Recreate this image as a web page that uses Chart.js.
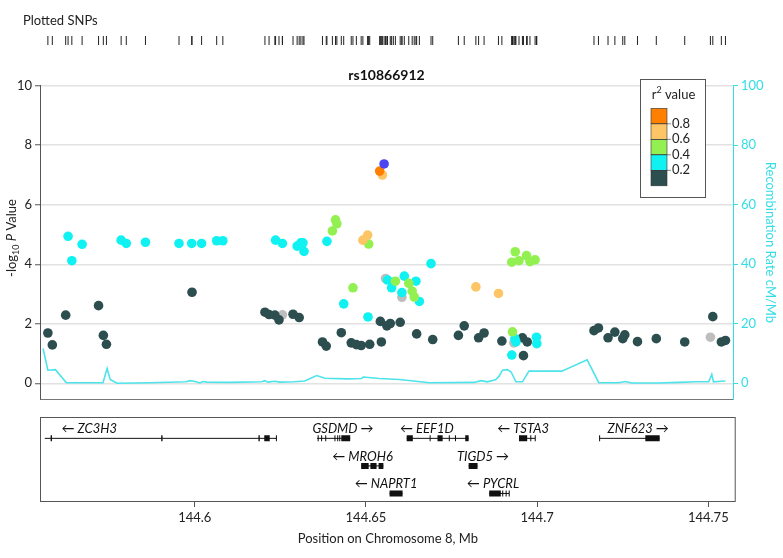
<!DOCTYPE html>
<html>
<head>
<meta charset="utf-8">
<script src="https://cdn.jsdelivr.net/npm/chart.js@4.4.0/dist/chart.umd.min.js"></script>
<style>
  html, body { margin: 0; padding: 0; background: #fff; }
  #wrap { position: relative; width: 783px; height: 558px; }
  canvas { position: absolute; left: 0; }
</style>
</head>
<body>
<div id="wrap">
  <canvas id="snpChart" width="783" height="52" style="top:0px"></canvas>
  <canvas id="mainChart" width="783" height="358" style="top:52px"></canvas>
  <canvas id="geneChart" width="783" height="148" style="top:410px"></canvas>
</div>
<script>
// x-bereik (Mb) en ticks
const xMin = 144.5548;
const xMax = 144.7572;
const geneXMax = 144.7580;
const xTicks = [144.6, 144.65, 144.7, 144.75];
const yTicks = [0, 2, 4, 6, 8, 10];
const recombTicks = [0, 20, 40, 60, 80, 100];

// SNPs per r2-klasse: positie (Mb) en -log10 P
const leadPos = [144.6553];
const leadP = [7.37];
const r2_08Pos = [144.6540];
const r2_08P = [7.13];
const r2_06Pos = [144.6548, 144.6505, 144.6491, 144.6821, 144.6887];
const r2_06P = [7.00, 4.98, 4.81, 3.24, 3.02];
const r2_04Pos = [144.6411, 144.6415, 144.6402, 144.6462, 144.6508, 144.6586, 144.6625, 144.6635, 144.6641,
                  144.6936, 144.6926, 144.6947, 144.6969, 144.6979, 144.6994, 144.6928];
const r2_04P = [5.49, 5.36, 5.12, 3.21, 4.68, 3.43, 3.36, 3.10, 2.90, 4.42, 4.07, 4.12, 4.29, 4.09, 4.15, 1.73];
const r2_02Pos = [144.5630, 144.5641, 144.5671, 144.5785, 144.5800, 144.5856, 144.5954, 144.5991, 144.6020,
                  144.6064, 144.6082, 144.6236, 144.6256, 144.6299, 144.6310, 144.6316, 144.6319, 144.6386,
                  144.6435, 144.6506, 144.6563, 144.6575, 144.6580, 144.6612, 144.6605, 144.6646, 144.6656,
                  144.6690, 144.6926, 144.6938, 144.6935, 144.6998, 144.6999];
const r2_02P = [4.94, 4.12, 4.67, 4.81, 4.70, 4.74, 4.70, 4.70, 4.70, 4.79, 4.79, 4.81, 4.70, 4.61, 4.72, 4.72,
                4.43, 4.77, 2.67, 2.23, 3.47, 3.21, 3.40, 3.60, 3.05, 3.43, 2.75, 4.02, 0.95, 1.39, 1.50, 1.55, 1.33];
const r2_00Pos = [144.5571, 144.5584, 144.5623, 144.5719, 144.5733, 144.5742, 144.5992, 144.6205, 144.6217,
                  144.6234, 144.6246, 144.6287, 144.6305, 144.6373, 144.6384, 144.6428, 144.6457, 144.6472,
                  144.6486, 144.6511, 144.6542, 144.6545, 144.6561, 144.6571, 144.6600, 144.6648, 144.6695,
                  144.6770, 144.6787, 144.6829, 144.6845, 144.6897, 144.6957, 144.6971, 144.6960, 144.7166,
                  144.7179, 144.7207, 144.7227, 144.7250, 144.7256, 144.7293, 144.7348, 144.7431, 144.7513,
                  144.7538, 144.7550];
const r2_00P = [1.69, 1.29, 2.29, 2.61, 1.61, 1.31, 3.06, 2.39, 2.31, 2.29, 2.13, 2.32, 2.21, 1.39, 1.25, 1.70,
                1.36, 1.30, 1.27, 1.31, 2.08, 1.39, 1.93, 2.01, 2.05, 1.66, 1.47, 1.61, 1.93, 1.53, 1.69, 1.42,
                1.53, 1.39, 0.93, 1.77, 1.86, 1.53, 1.72, 1.50, 1.63, 1.40, 1.50, 1.39, 2.24, 1.39, 1.44];
const naPos = [144.6256, 144.6557, 144.6605, 144.6932, 144.7506];
const naP = [2.30, 3.52, 2.89, 1.36, 1.55];

// recombinatie (cM/Mb)
const recombPos = [144.5557, 144.5571, 144.5593, 144.5625, 144.5732, 144.5744, 144.5753, 144.5773, 144.5870,
                   144.5975, 144.5986, 144.6001, 144.6015, 144.6024, 144.6036, 144.6103, 144.6196, 144.6205,
                   144.6213, 144.6234, 144.6248, 144.6292, 144.6321, 144.6356, 144.6380, 144.6443, 144.6487,
                   144.6492, 144.6539, 144.6598, 144.6685, 144.6816, 144.6837, 144.6854, 144.6878, 144.6889,
                   144.6899, 144.6913, 144.6924, 144.6938, 144.6957, 144.6976, 144.7072, 144.7146, 144.7180,
                   144.7238, 144.7258, 144.7276, 144.7355, 144.7413, 144.7463, 144.7501, 144.7510, 144.7515,
                   144.7538, 144.7550];
const recombRate = [11.7, 4.4, 4.6, 0.2, 0.2, 5.0, 1.3, 0.0, 0.2, 0.5, 0.9, 0.6, 0.1, 0.6, 0.4, 0.3, 0.5, 0.9,
                    0.4, 0.7, 0.4, 0.5, 0.8, 2.6, 1.7, 1.5, 1.6, 2.1, 1.6, 1.3, 0.2, 0.3, 0.9, 0.5, 1.2, 2.4,
                    4.4, 4.6, 3.8, 0.5, 0.5, 4.1, 4.1, 7.9, 0.2, 0.2, 0.6, 0.1, 0.1, 0.3, 0.5, 0.5, 3.0, 0.5,
                    0.7, 0.8];

// legenda
const r2Labels = ["0.8", "0.6", "0.4", "0.2"];
const r2Colors = ["#FF7F00", "#FDC566", "#92F050", "#10F2F2", "#2C4E4E"];
const leadColor = "#4B45F2";
const naColor = "#BEBEBE";
const recombColor = "#4CE4EA";
const axisCyan = "#33DDE6";

// genen
const geneNames = ["ZC3H3", "GSDMD", "MROH6", "NAPRT1", "EEF1D", "TSTA3", "ZNF623", "TIGD5", "PYCRL"];
const geneStrand = ["-", "+", "-", "-", "-", "-", "+", "+", "-"];
const geneRow = [1, 1, 2, 3, 1, 1, 1, 2, 3];
const geneStart = [144.5562, 144.6357, 144.6486, 144.6569, 144.6619, 144.6947, 144.7182, 144.6800, 144.6860];
const geneEnd = [144.6239, 144.6454, 144.6551, 144.6607, 144.6800, 144.6994, 144.7358, 144.6826, 144.6918];
const geneLabelPos = [144.5692, 144.6433, 144.6490, 144.6559, 144.6678, 144.6959, 144.7295, 144.6842, 144.6871];
const geneExons = [
    [[144.5579, 144.5583], [144.5902, 144.5906], [144.6186, 144.6190], [144.6203, 144.6219], [144.6237, 144.6240]],
    [[144.6359, 144.6362], [144.6369, 144.6372], [144.6381, 144.6384], [144.6408, 144.6411], [144.6416, 144.6419],
     [144.6422, 144.6425], [144.6428, 144.6454]],
    [[144.6486, 144.6508], [144.6513, 144.6531], [144.6537, 144.6551]],
    [[144.6569, 144.6607]],
    [[144.6619, 144.6637], [144.6686, 144.6689], [144.6709, 144.6724], [144.6742, 144.6745], [144.6760, 144.6763],
     [144.6790, 144.6800]],
    [[144.6947, 144.6971], [144.6980, 144.6983], [144.6993, 144.6996]],
    [[144.7181, 144.7184], [144.7316, 144.7358]],
    [[144.6800, 144.6826]],
    [[144.6860, 144.6894], [144.6898, 144.6901], [144.6908, 144.6911], [144.6917, 144.6920]]
];

const FONT = "Lato, 'DejaVu Sans', sans-serif";
Chart.defaults.font.family = FONT;
Chart.defaults.font.size = 13;
Chart.defaults.color = "#222";

function pts(pos, vals) {
    return pos.map((x, i) => ({ x: x, y: vals[i] }));
}

// tekst in stukjes (subscript, cursief)
function drawParts(ctx, parts, x, y) {
    let w = 0;
    parts.forEach(p => { ctx.font = p.font; w += ctx.measureText(p.t).width; });
    let cx = x - w / 2;
    parts.forEach(p => {
        ctx.font = p.font;
        ctx.fillText(p.t, cx, y + (p.dy || 0));
        cx += ctx.measureText(p.t).width;
    });
}

// ---------- Plotted SNPs ----------
const allPos = [].concat(leadPos, r2_08Pos, r2_06Pos, r2_04Pos, r2_02Pos, r2_00Pos, naPos);

new Chart(document.getElementById("snpChart"), {
    type: "scatter",
    data: {
        datasets: [{
            data: allPos.map(x => ({ x: x, y: 0.5 })),
            pointStyle: "line",
            rotation: 90,
            pointRadius: 6,
            borderColor: "#222",
            borderWidth: 1
        }]
    },
    options: {
        responsive: false,
        animation: false,
        events: [],
        layout: { padding: { left: 23, right: 50, top: 0, bottom: 0 } },
        plugins: {
            legend: { display: false },
            tooltip: { enabled: false },
            title: {
                display: true, text: "Plotted SNPs", align: "start",
                font: { size: 13, weight: "normal" }, color: "#222",
                padding: { top: 12.7, bottom: 7.7 }
            }
        },
        scales: {
            x: { type: "linear", min: xMin, max: xMax, display: false },
            y: {
                min: 0, max: 1, display: true,
                ticks: { display: false }, grid: { display: false }, border: { display: false },
                afterFit: s => { s.width = 17; }
            }
        }
    }
});

// ---------- hoofdplot ----------
const classes = [
    { pos: leadPos, p: leadP, color: leadColor },
    { pos: r2_08Pos, p: r2_08P, color: r2Colors[0] },
    { pos: r2_06Pos, p: r2_06P, color: r2Colors[1] },
    { pos: r2_04Pos, p: r2_04P, color: r2Colors[2] },
    { pos: r2_02Pos, p: r2_02P, color: r2Colors[3] },
    { pos: r2_00Pos, p: r2_00P, color: r2Colors[4] },
    { pos: naPos, p: naP, color: naColor }
];

const datasets = classes.map((c, i) => ({
    data: pts(c.pos, c.p),
    pointBackgroundColor: c.color,
    pointBorderWidth: 0,
    pointRadius: 4.8,
    yAxisID: "y",
    order: i
}));
datasets.push({
    data: pts(recombPos, recombRate),
    showLine: true,
    borderColor: recombColor,
    borderWidth: 1.6,
    pointRadius: 0,
    yAxisID: "y2",
    order: 20
});

const mainExtras = {
    id: "mainExtras",
    afterDraw(chart) {
        const ctx = chart.ctx;
        ctx.save();
        ctx.fillStyle = "#222";
        ctx.textBaseline = "middle";
        ctx.textAlign = "left";
        // y-as titel
        ctx.save();
        ctx.translate(12, 238 - 52);
        ctx.rotate(-Math.PI / 2);
        drawParts(ctx, [
            { t: "-log", font: "13px " + FONT },
            { t: "10", font: "9px " + FONT, dy: 4 },
            { t: " ", font: "13px " + FONT },
            { t: "P", font: "italic 13px " + FONT },
            { t: " Value", font: "13px " + FONT }
        ], 0, 0);
        ctx.restore();

        // r2 legenda
        const bx = 640, by = 79 - 52, bw = 65, bh = 118;
        ctx.fillStyle = "#fff";
        ctx.fillRect(bx, by, bw, bh);
        ctx.strokeStyle = "#555";
        ctx.lineWidth = 1;
        ctx.strokeRect(bx + 0.5, by + 0.5, bw, bh);
        ctx.fillStyle = "#222";
        drawParts(ctx, [
            { t: "r", font: "13px " + FONT },
            { t: "2", font: "9px " + FONT, dy: -5 },
            { t: " value", font: "13px " + FONT }
        ], bx + bw / 2 + 1, by + 16);
        const sx = 651, sy = 108.3 - 52, sw = 16, sh = 15.5;
        r2Colors.forEach((col, i) => {
            ctx.fillStyle = col;
            ctx.fillRect(sx, sy + i * sh, sw, sh);
        });
        ctx.strokeStyle = "#333";
        ctx.lineWidth = 0.6;
        r2Colors.forEach((col, i) => ctx.strokeRect(sx, sy + i * sh, sw, sh));
        ctx.fillStyle = "#222";
        ctx.font = "13px " + FONT;
        r2Labels.forEach((lab, i) => {
            const yy = sy + (i + 1) * sh;
            ctx.beginPath();
            ctx.moveTo(sx + sw, yy);
            ctx.lineTo(sx + sw + 4, yy);
            ctx.stroke();
            ctx.fillText(lab, sx + sw + 5, yy);
        });
        ctx.restore();
    }
};

new Chart(document.getElementById("mainChart"), {
    type: "scatter",
    data: { datasets: datasets },
    options: {
        responsive: false,
        animation: false,
        events: [],
        layout: { padding: { left: 0, right: 0, top: 0, bottom: 3 } },
        plugins: {
            legend: { display: false },
            tooltip: { enabled: false },
            title: {
                display: true, text: "rs10866912", fullSize: false,
                font: { size: 14, weight: "bold" }, color: "#111",
                padding: { top: 14.6, bottom: 2.3 }
            }
        },
        scales: {
            x: {
                type: "linear", min: xMin, max: xMax,
                ticks: { display: false }, grid: { display: false },
                border: { color: "#777", width: 1 },
                afterFit: s => { s.height = 0; }
            },
            y: {
                position: "left", min: -0.534, max: 10,
                afterBuildTicks: s => { s.ticks = yTicks.map(v => ({ value: v })); },
                ticks: { padding: 3, color: "#222", callback: v => String(v) },
                grid: { color: "#E2E2E2", lineWidth: 1.5, tickColor: "#555", tickLength: 5, tickWidth: 1 },
                border: { color: "#555", width: 1 },
                afterFit: s => { s.width = 40; }
            },
            y2: {
                position: "right", min: -5.34, max: 100,
                afterBuildTicks: s => { s.ticks = recombTicks.map(v => ({ value: v })); },
                ticks: { padding: 3, color: axisCyan, callback: v => String(v) },
                grid: { drawOnChartArea: false, tickColor: axisCyan, tickLength: 5, tickWidth: 1 },
                border: { color: axisCyan, width: 1 },
                title: {
                    display: true, text: "Recombination Rate cM/Mb", color: axisCyan,
                    font: { size: 13 }, padding: { top: 5.2, bottom: 0 }
                },
                afterFit: s => { s.width = 50; }
            }
        }
    },
    plugins: [mainExtras]
});

// ---------- genen ----------
const geneSets = [];
geneNames.forEach((g, i) => {
    geneSets.push({
        data: [{ x: geneStart[i], y: geneRow[i] }, { x: geneEnd[i], y: geneRow[i] }],
        showLine: true, borderColor: "#111", borderWidth: 1, pointRadius: 0
    });
    const ex = [];
    geneExons[i].forEach(e => {
        ex.push({ x: e[0], y: geneRow[i] }, { x: e[1], y: geneRow[i] }, { x: e[1], y: null });
    });
    geneSets.push({
        data: ex, showLine: true, spanGaps: false, borderColor: "#111",
        borderWidth: 6, borderCapStyle: "butt", pointRadius: 0
    });
});

const geneLabels = {
    id: "geneLabels",
    afterDraw(chart) {
        const { ctx, chartArea: a, scales: { x, y } } = chart;
        ctx.save();
        ctx.strokeStyle = "#555";
        ctx.lineWidth = 1;
        ctx.strokeRect(a.left + 0.5, a.top + 0.5, a.right - a.left - 1, a.bottom - a.top - 1);
        ctx.font = "italic 13px " + FONT;
        ctx.fillStyle = "#111";
        ctx.textAlign = "center";
        ctx.textBaseline = "middle";
        geneNames.forEach((g, i) => {
            const t = geneStrand[i] === "-" ? "\u2190 " + g : g + " \u2192";
            ctx.fillText(t, x.getPixelForValue(geneLabelPos[i]), y.getPixelForValue(geneRow[i]) - 9.5);
        });
        ctx.restore();
    }
};

new Chart(document.getElementById("geneChart"), {
    type: "scatter",
    data: { datasets: geneSets },
    options: {
        responsive: false,
        animation: false,
        events: [],
        layout: { padding: { left: 40, right: 47.3, top: 7, bottom: 0 } },
        plugins: { legend: { display: false }, tooltip: { enabled: false } },
        scales: {
            x: {
                type: "linear", min: xMin, max: geneXMax,
                afterBuildTicks: s => { s.ticks = xTicks.map(v => ({ value: v })); },
                ticks: { padding: 3, color: "#222", callback: v => String(v) },
                grid: { drawOnChartArea: false, tickLength: 5, tickColor: "#555" },
                border: { display: false },
                title: {
                    display: true, text: "Position on Chromosome 8, Mb", color: "#222",
                    font: { size: 13 }, padding: { top: 0, bottom: 11.2 }
                },
                afterFit: s => { s.height = 56; }
            },
            y: { display: false, min: 0.225, max: 3.31, reverse: true }
        }
    },
    plugins: [geneLabels]
});
</script>
</body>
</html>
